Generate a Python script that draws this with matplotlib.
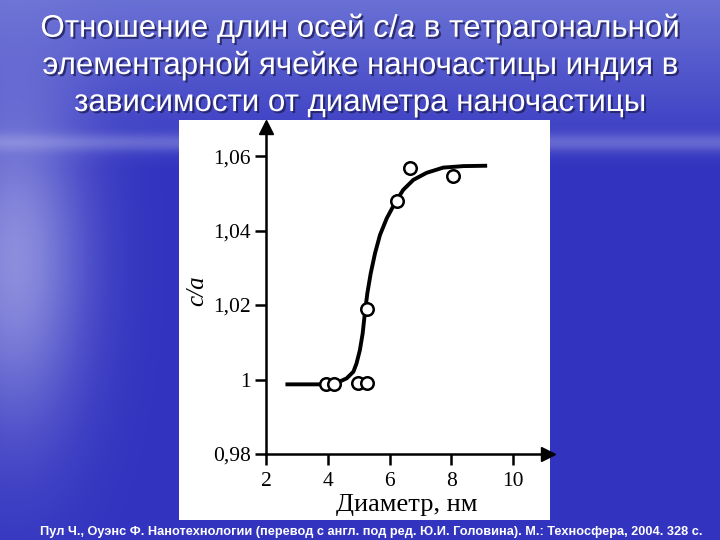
import numpy as np
import matplotlib
matplotlib.use("Agg")
import matplotlib.pyplot as plt
import matplotlib.patheffects as pe
from matplotlib.patches import Rectangle
from matplotlib import font_manager

names = {f.name for f in font_manager.fontManager.ttflist}
title_font = 'Liberation Sans Narrow' if 'Liberation Sans Narrow' in names else 'Liberation Sans'

plt.rcParams['mathtext.fontset'] = 'custom'
plt.rcParams['mathtext.it'] = title_font + ':italic'
plt.rcParams['mathtext.rm'] = title_font

# measured points (diameter nm, c/a)
diam_pts = [3.93, 4.20, 4.99, 5.26, 5.26, 6.24, 6.66, 8.06]
ca_pts = [0.9987, 0.9987, 0.9991, 0.9991, 1.0188, 1.0478, 1.0569, 1.0546]

# fitted curve
diam_curve = [2.63, 3.75, 4.29, 4.61, 4.83, 4.93, 5.04, 5.13, 5.20, 5.28, 5.39,
              5.53, 5.69, 5.91, 6.17, 6.44, 6.77, 7.20, 7.74, 8.39, 9.16]
ca_curve = [0.9987, 0.9987, 0.9991, 1.0003, 1.0021, 1.0043, 1.0079, 1.0124,
            1.0178, 1.0231, 1.0285, 1.0339, 1.0388, 1.0433, 1.0473, 1.0509,
            1.0536, 1.0555, 1.0569, 1.0573, 1.0574]

xticks = [2, 4, 6, 8, 10]
yticks = [0.98, 1.00, 1.02, 1.04, 1.06]
ytick_labels = ["0,98", "1", "1,02", "1,04", "1,06"]

title_lines = [r"Отношение длин осей $\mathit{c/a}$ в тетрагональной",
               "элементарной ячейке наночастицы индия в",
               "зависимости от диаметра наночастицы"]
footnote = ("Пул Ч., Оуэнс Ф. Нанотехнологии (перевод с англ. под ред. Ю.И. Головина). "
            "М.: Техносфера, 2004. 328 с.")

fig = plt.figure(figsize=(7.2, 5.4), dpi=100)

# slide background (sea / sky)
bg = fig.add_axes([0, 0, 1, 1])
yy, xx = np.mgrid[0:540, 0:720]
base = np.array([50, 52, 192]) / 255.0
top = np.array([105, 112, 212]) / 255.0
glare = np.array([200, 200, 240]) / 255.0
t = np.clip(1 - yy / 170.0, 0, 1)[..., None]
img = base * (1 - t) + top * t
g = 0.6 * np.exp(-(((xx - 15) / 70.0) ** 2 + ((yy - 260) / 170.0) ** 2))[..., None]
img = img * (1 - g) + glare * g
h = 0.3 * np.exp(-((yy - 142) / 9.0) ** 2)[..., None]
img = img * (1 - h) + np.array([0.8, 0.8, 0.95]) * h
bg.imshow(img, extent=[0, 720, 540, 0], aspect='auto')
bg.set_xlim(0, 720)
bg.set_ylim(540, 0)
bg.axis('off')

# white panel of the chart
bg.add_patch(Rectangle((179, 120), 371, 400, facecolor='white', edgecolor='none'))

shadow = [pe.withSimplePatchShadow(offset=(1.5, -1.5), shadow_rgbFace='#20205a', alpha=0.8)]
for i, line in enumerate(title_lines):
    bg.text(360, 37 + 37 * i, line, ha='center', va='baseline', color='white',
            fontsize=22.5, family=title_font, path_effects=shadow)

bg.text(371, 532, footnote, ha='center', va='center', color='white', fontsize=9.2,
        fontweight='bold', family='Liberation Sans')

# chart
ax = fig.add_axes([266 / 720, 1 - 454 / 540, 282 / 720, 327 / 540])
ax.set_facecolor('none')
ax.plot(diam_curve, ca_curve, color='black', lw=2.8, solid_capstyle='butt')
ax.plot(diam_pts, ca_pts, 'o', ms=9, mfc='white', mec='black', mew=1.8)

ax.set_xlim(2, 11.13)
ax.set_ylim(0.98, 1.0678)
ax.spines['top'].set_visible(False)
ax.spines['right'].set_visible(False)
for s in ('left', 'bottom'):
    ax.spines[s].set_linewidth(1.8)
ax.plot(1, 0, '>k', ms=10, transform=ax.transAxes, clip_on=False)
ax.plot(0, 1, '^k', ms=10, transform=ax.transAxes, clip_on=False)

ax.set_xticks(xticks)
ax.set_xticklabels([str(v) for v in xticks])
ax.set_yticks(yticks)
ax.set_yticklabels(ytick_labels)
ax.tick_params(direction='out', length=8, width=1.8, labelsize=15.5, pad=3)
ax.tick_params(axis='x', pad=5)
for lab in ax.get_xticklabels() + ax.get_yticklabels():
    lab.set_family('Liberation Serif')

ax.set_xlabel("Диаметр, нм", family='Liberation Serif', fontsize=19, labelpad=2)
ax.set_ylabel("c/a", family='Liberation Serif', style='italic', fontsize=18, labelpad=3)

fig.savefig("out.png", dpi=100)
